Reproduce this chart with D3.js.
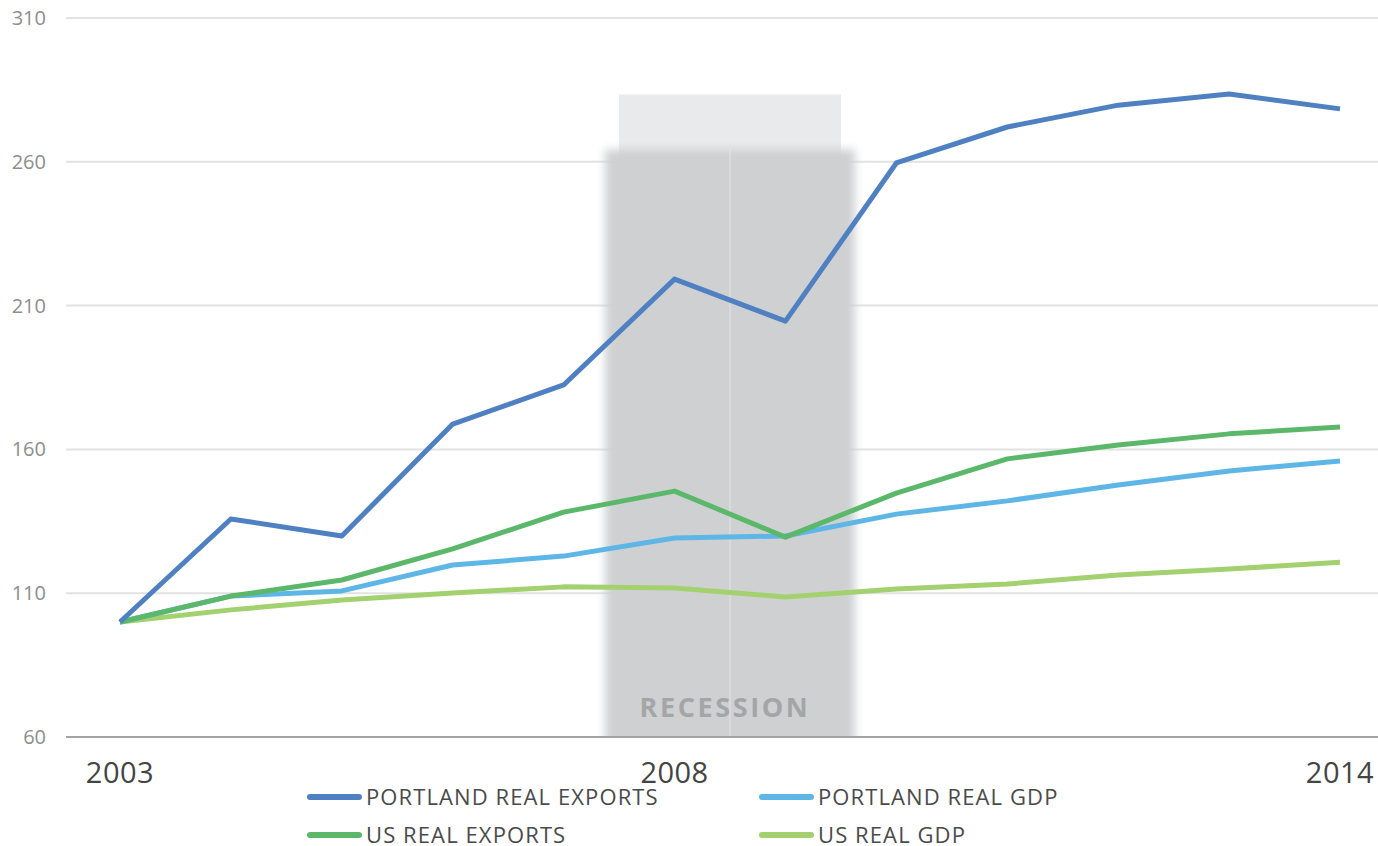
<!DOCTYPE html>
<html>
<head>
<meta charset="utf-8">
<script src="https://cdn.jsdelivr.net/npm/d3@7"></script>
<style>
  body { margin: 0; background: #fff; }
  svg { display: block; font-family: "Open Sans", Lato, sans-serif; }
</style>
</head>
<body>
<div id="chart"></div>
<script>
var years = [2003, 2004, 2005, 2006, 2007, 2008, 2009, 2010, 2011, 2012, 2013, 2014];
var portlandExports = [100, 135.8, 129.9, 168.8, 182.4, 219.2, 204.6, 259.6, 272.1, 279.7, 283.6, 278.4];
var portlandGdp     = [100, 109, 110.8, 119.8, 122.9, 129.2, 129.9, 137.5, 142.1, 147.6, 152.5, 156];
var usExports       = [100, 109, 114.6, 125.4, 138.2, 145.5, 129.5, 144.8, 156.7, 161.5, 165.4, 167.8];
var usGdp           = [100, 104.2, 107.6, 110.1, 112.2, 111.8, 108.7, 111.5, 113.2, 116.3, 118.4, 120.8];
var yTicks = [60, 110, 160, 210, 260, 310];
var xTickLabels = [2003, 2008, 2014];
var recession = [2007.5, 2009.5];

var series = [
  { name: "PORTLAND REAL EXPORTS", values: portlandExports, color: "#4f80c1" },
  { name: "PORTLAND REAL GDP", values: portlandGdp, color: "#5db6e6" },
  { name: "US REAL EXPORTS", values: usExports, color: "#5bb86a" },
  { name: "US REAL GDP", values: usGdp, color: "#a3d16f" }
];
// draw order: light green first so others sit on top
var drawOrder = [3, 1, 2, 0];

var W = 1378, H = 846;
var svg = d3.select("#chart").append("svg").attr("width", W).attr("height", H);

var x = d3.scaleLinear().domain([2003, 2014]).range([120, 1340]);
var y = d3.scaleLinear().domain([60, 310]).range([737, 18]);

var defs = svg.append("defs");
defs.append("filter").attr("id", "blur")
    .attr("x", "-20%").attr("y", "-20%").attr("width", "140%").attr("height", "140%")
  .append("feGaussianBlur").attr("stdDeviation", 4);
defs.append("clipPath").attr("id", "plotclip")
  .append("rect").attr("x", 0).attr("y", 0).attr("width", W).attr("height", y(60));

// grid
svg.append("g").selectAll("line").data(yTicks.filter(function(d){ return d > 60; }))
  .join("line")
    .attr("x1", 66).attr("x2", W)
    .attr("y1", function(d){ return y(d); }).attr("y2", function(d){ return y(d); })
    .attr("stroke", "#e2e2e2").attr("stroke-width", 2);

// recession shading
var rx0 = x(recession[0]), rx1 = x(recession[1]);
var shade = svg.append("g").attr("clip-path", "url(#plotclip)");
shade.append("rect")
  .attr("x", rx0).attr("y", y(283.4))
  .attr("width", rx1 - rx0).attr("height", y(60) - y(283.4))
  .attr("fill", "#e9eaeb");
shade.append("rect")
  .attr("x", rx0 - 14).attr("y", y(264.3))
  .attr("width", rx1 - rx0 + 28).attr("height", y(60) - y(264.3) + 20)
  .attr("fill", "#cfd0d2").attr("filter", "url(#blur)");
shade.append("rect")
  .attr("x", rx0).attr("y", y(264.3) + 8)
  .attr("width", rx1 - rx0).attr("height", y(60) - y(264.3))
  .attr("fill", "#cfd0d2");
shade.append("line")
  .attr("x1", (rx0 + rx1) / 2).attr("x2", (rx0 + rx1) / 2)
  .attr("y1", y(266)).attr("y2", y(60))
  .attr("stroke", "#e2e3e4").attr("stroke-width", 1);
svg.append("text")
  .attr("x", (rx0 + rx1) / 2 - 5).attr("y", 717)
  .attr("text-anchor", "middle")
  .attr("fill", "#a4a5a7")
  .style("font-size", "27px").style("font-weight", "bold").style("letter-spacing", "2.6px")
  .text("RECESSION");

// y labels
svg.append("g").selectAll("text").data(yTicks)
  .join("text")
    .attr("x", 46).attr("y", function(d){ return y(d); })
    .attr("dy", "0.35em")
    .attr("text-anchor", "end")
    .attr("fill", "#8e8e8e")
    .style("font-size", "20px")
    .text(function(d){ return d; });

// axis line
svg.append("line")
  .attr("x1", 66).attr("x2", W).attr("y1", y(60)).attr("y2", y(60))
  .attr("stroke", "#a2a3a5").attr("stroke-width", 2);

// x labels
svg.append("g").selectAll("text").data(xTickLabels)
  .join("text")
    .attr("x", function(d){ return x(d); }).attr("y", 783)
    .attr("text-anchor", "middle")
    .attr("fill", "#444")
    .style("font-size", "29px").style("letter-spacing", "0.5px")
    .text(function(d){ return d; });

// lines
var line = d3.line()
  .x(function(d, i){ return x(years[i]); })
  .y(function(d){ return y(d); });

svg.append("g").selectAll("path").data(drawOrder.map(function(i){ return series[i]; }))
  .join("path")
    .attr("d", function(d){ return line(d.values); })
    .attr("fill", "none")
    .attr("stroke", function(d){ return d.color; })
    .attr("stroke-width", 5)
    .attr("stroke-linejoin", "round");

// legend
var legend = svg.append("g").selectAll("g").data(series)
  .join("g")
    .attr("transform", function(d, i){
      return "translate(" + (i % 2 === 0 ? 310 : 762) + "," + (i < 2 ? 797 : 835) + ")";
    });
legend.append("line")
  .attr("x1", 0).attr("x2", 49)
  .attr("stroke", function(d){ return d.color; })
  .attr("stroke-width", 6).attr("stroke-linecap", "round");
legend.append("text")
  .attr("x", 56).attr("dy", "0.36em")
  .attr("fill", "#4a4a4a")
  .style("font-size", "22px").style("letter-spacing", "1.1px")
  .text(function(d){ return d.name; });
</script>
</body>
</html>
